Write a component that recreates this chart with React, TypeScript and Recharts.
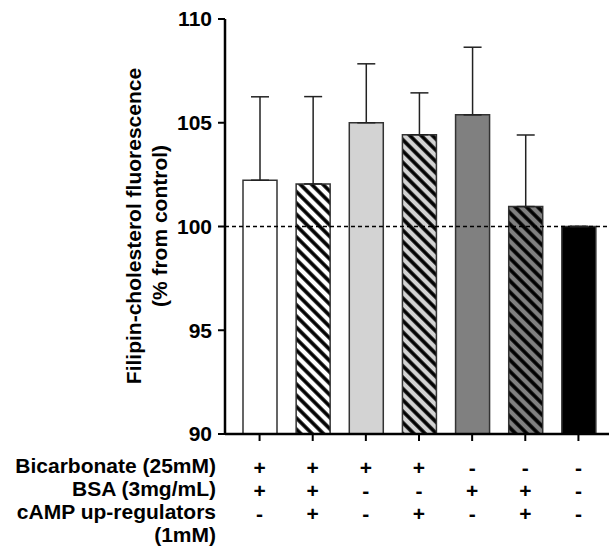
import { BarChart, Bar, XAxis, YAxis, Cell, ErrorBar, ReferenceLine } from "recharts";

const groups = ["g1", "g2", "g3", "g4", "g5", "g6", "g7"];
const means = [102.23, 102.05, 105.0, 104.42, 105.38, 100.96, 100];
const sems = [4.02, 4.21, 2.84, 2.02, 3.26, 3.45, 0];
const bicarbonate = ["+", "+", "+", "+", "-", "-", "-"];
const bsa = ["+", "+", "-", "-", "+", "+", "-"];
const camp = ["-", "+", "-", "+", "-", "+", "-"];
const fills = [
  "#ffffff",
  "url(#stripeWhite)",
  "#d3d3d3",
  "url(#stripeLight)",
  "#808080",
  "url(#stripeGray)",
  "#000000",
];
const yTicks = [90, 95, 100, 105, 110];
const rowLabels = ["Bicarbonate (25mM)", "BSA (3mg/mL)", "cAMP up-regulators", "(1mM)"];

const data = groups.map((g, i) => ({
  group: g,
  value: means[i],
  err: [0, sems[i]],
}));

const FONT = "'Liberation Sans', Arial, sans-serif";
const rows = [bicarbonate, bsa, camp];

function SignTick(props: any) {
  const { x, y, payload } = props;
  const i = payload.index;
  return (
    <g>
      {rows.map((r, k) => (
        <text
          key={k}
          x={x}
          y={y + 32 + k * 23}
          textAnchor="middle"
          fontFamily={FONT}
          fontWeight="bold"
          fontSize={21}
          fill="#000"
        >
          {r[i]}
        </text>
      ))}
    </g>
  );
}

function RowLabels(props: any) {
  const { viewBox } = props;
  const x = viewBox.x - 9;
  const y = viewBox.y;
  return (
    <g>
      {rowLabels.map((t, k) => (
        <text
          key={k}
          x={x}
          y={y + 39 + k * 23}
          textAnchor="end"
          fontFamily={FONT}
          fontWeight="bold"
          fontSize={21}
          fill="#000"
        >
          {t}
        </text>
      ))}
    </g>
  );
}

function YLabel() {
  return (
    <g fontFamily={FONT} fontWeight="bold" fontSize={21} fill="#000">
      <text x={141} y={226} textAnchor="middle" transform="rotate(-90 141 226)">
        Filipin-cholesterol fluorescence
      </text>
      <text x={167} y={226} textAnchor="middle" transform="rotate(-90 167 226)">
        (% from control)
      </text>
    </g>
  );
}

export default function App() {
  return (
    <div style={{ width: 609, height: 549, background: "#fff" }}>
      <style>{`body{margin:0;}`}</style>
      <BarChart
        width={609}
        height={549}
        data={data}
        margin={{ top: 19, right: 0, bottom: 0, left: 0 }}
        barCategoryGap={0}
      >
        <defs>
          <pattern id="stripeWhite" width="8" height="8" patternUnits="userSpaceOnUse" patternTransform="rotate(-45)">
            <rect width="8" height="8" fill="#ffffff" />
            <line x1="2" y1="0" x2="2" y2="8" stroke="#000" strokeWidth="3.6" />
          </pattern>
          <pattern id="stripeLight" width="8" height="8" patternUnits="userSpaceOnUse" patternTransform="rotate(-45)">
            <rect width="8" height="8" fill="#d3d3d3" />
            <line x1="2" y1="0" x2="2" y2="8" stroke="#000" strokeWidth="3.6" />
          </pattern>
          <pattern id="stripeGray" width="8" height="8" patternUnits="userSpaceOnUse" patternTransform="rotate(-45)">
            <rect width="8" height="8" fill="#808080" />
            <line x1="2" y1="0" x2="2" y2="8" stroke="#000" strokeWidth="3.6" />
          </pattern>
        </defs>
        <XAxis
          dataKey="group"
          height={115}
          padding={{ left: 8, right: 4 }}
          axisLine={{ stroke: "#000", strokeWidth: 2.5 }}
          tickLine={{ stroke: "#000", strokeWidth: 2 }}
          tickSize={7}
          tick={<SignTick />}
          interval={0}
          label={<RowLabels />}
        />
        <YAxis
          type="number"
          domain={[90, 110]}
          ticks={yTicks}
          width={225}
          allowDataOverflow
          axisLine={{ stroke: "#000", strokeWidth: 2.5 }}
          tickLine={{ stroke: "#000", strokeWidth: 2 }}
          tickSize={7}
          tickMargin={6}
          tick={{ fontFamily: FONT, fontWeight: "bold", fontSize: 21, fill: "#000" }}
          label={<YLabel />}
        />
        <ReferenceLine y={100} stroke="#000" strokeWidth={1.5} strokeDasharray="4 3" />
        <Bar dataKey="value" barSize={34} stroke="#333" strokeWidth={1.5} isAnimationActive={false}>
          {data.map((d, i) => (
            <Cell key={d.group} fill={fills[i]} />
          ))}
          <ErrorBar dataKey="err" width={9} stroke="#222" strokeWidth={1.5} direction="y" />
        </Bar>
      </BarChart>
    </div>
  );
}
